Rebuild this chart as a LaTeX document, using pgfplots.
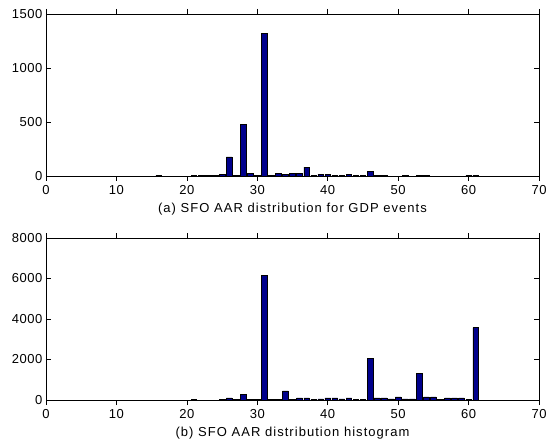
\documentclass[border=0pt]{standalone}
\usepackage{fontspec}
\setmainfont{Liberation Sans}
\usepackage{pgfplots}
\pgfplotsset{compat=1.18}
\definecolor{barblue}{RGB}{0,0,140}
\pgfplotsset{
  sfo/.style={
    scale only axis, width=493pt, height=162pt,
    xmin=0, xmax=70, xtick={0,10,...,70},
    ymin=0,
    tick align=inside, major tick length=5pt,
    xtick pos=both, ytick pos=both,
    ybar, bar width=0.8, bar shift=0pt,
    axis line style={black, line width=0.6pt},
    tick style={black, line width=0.5pt},
    every tick label/.append style={font=\fontsize{13}{15}\selectfont\addfontfeature{LetterSpace=4}},
    /pgf/number format/assume math mode=true,
    scaled y ticks=false,
    yticklabel style={/pgf/number format/1000 sep={}},
    xlabel style={font=\fontsize{13}{15}\selectfont\addfontfeature{LetterSpace=8}, yshift=-1pt},
    xticklabel style={yshift=-1pt},
  }
}
\begin{document}
\begin{tikzpicture}[x=1pt,y=1pt]
\useasboundingbox (0,0) rectangle (546,445);
\begin{axis}[sfo, at={(46pt,431pt)}, anchor=north west,
  ymax=1500, ytick={0,500,1000,1500},
  xlabel={(a) SFO AAR distribution for GDP events}]
\addplot[fill=barblue, draw=black, line width=0.5pt] coordinates {
(16,5) (21,5) (22,3) (23,3) (24,3) (25,15) (26,176) (27,5) (28,480)
(29,25) (30,5) (31,1320) (32,5) (33,25) (34,15) (35,25) (36,25) (37,83)
(38,5) (39,15) (40,15) (41,5) (42,5) (43,15) (44,5) (45,3) (46,40)
(47,8) (48,8) (51,5) (53,5) (54,5) (60,5) (61,5)};
\end{axis}
\begin{axis}[sfo, at={(46pt,207pt)}, anchor=north west,
  ymax=8000, ytick={0,2000,4000,6000,8000},
  xlabel={(b) SFO AAR distribution histogram}]
\addplot[fill=barblue, draw=black, line width=0.5pt] coordinates {
(21,40) (25,30) (26,100) (27,30) (28,280) (29,30) (30,30) (31,6150)
(32,30) (33,30) (34,450) (35,30) (36,100) (37,100) (38,30) (39,50)
(40,100) (41,100) (42,50) (43,100) (44,30) (45,30) (46,2050) (47,100)
(48,100) (49,50) (50,150) (51,50) (52,50) (53,1330) (54,150) (55,150)
(56,30) (57,100) (58,100) (59,100) (60,30) (61,3580)};
\end{axis}
\end{tikzpicture}
\end{document}
